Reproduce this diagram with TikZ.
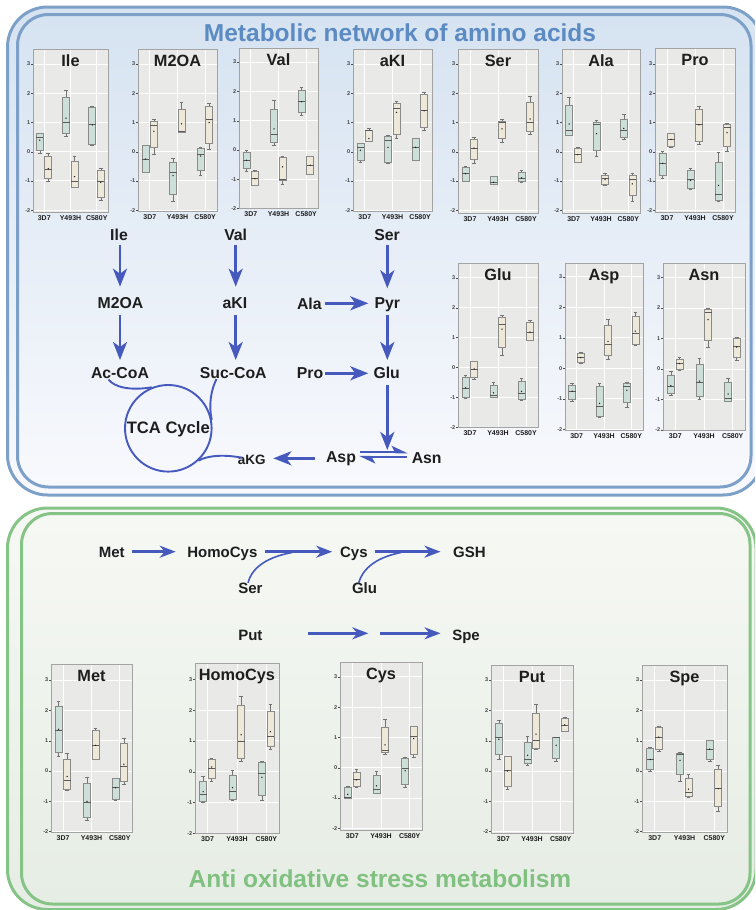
\documentclass[tikz,border=0pt]{standalone}
\usepackage{fontspec}
\setmainfont{Liberation Sans}
\usetikzlibrary{arrows.meta,calc}
\definecolor{bline}{HTML}{7DA0C9}
\definecolor{gline}{HTML}{86C386}
\definecolor{ttlb}{HTML}{5B8BC2}
\definecolor{ttlg}{HTML}{80C080}
\definecolor{arrc}{HTML}{4659BD}
\definecolor{pbg}{HTML}{E9E9E7}
\definecolor{pfr}{HTML}{A3A3A3}
\definecolor{boxg}{HTML}{CCDFD8}
\definecolor{boxb}{HTML}{EDE8D8}
\definecolor{boxl}{HTML}{8A8A8A}
\definecolor{txt}{HTML}{1E1E1E}
\definecolor{bft}{HTML}{D6E3F1}
\definecolor{bfm}{HTML}{E6EEF7}
\definecolor{bfb}{HTML}{F8F9FD}
\definecolor{gft}{HTML}{F6F8F4}
\definecolor{gfb}{HTML}{E6EDE4}
\newcommand\fs[1]{\fontsize{#1}{#1}\selectfont}
\def\PX{0}\def\PXr{0}\def\PZ{0}\def\PU{1}\def\bxfill{boxg}
\newcommand\bxpanel[8]{%
 \def\PX{#2}\def\PXr{#3}\def\PZ{#6}\def\PU{#7}%
 \fill[pbg] (#2,#4) rectangle (#3,#5);
 \foreach \v in {-2,-1,0,1,2,3}{%
   \pgfmathsetmacro\yy{#6-\v*#7}%
   \draw[gridl] (#2,\yy) -- (#3,\yy);
   \draw[tickl] (#2-2,\yy) -- (#2,\yy);
   \node[ytl] (#1y\v) at (#2-2.3,\yy) {\v};
 }%
 \foreach \f/\lab/\i in {0.15/3D7/1,0.5/Y493H/2,0.85/C580Y/3}{%
   \pgfmathsetmacro\xx{#2+(#3-#2)*\f}%
   \draw[gridl] (\xx,#4) -- (\xx,#5);
   \node[xtl] (#1x\i) at (\xx,#5+6.5) {\lab};
 }%
 \draw[pfr,line width=0.8pt] (#2,#4) rectangle (#3,#5);
 \node[ptitle] (#1t) at ({(#2+#3)/2},#4+12) {#8};
}
\newcommand\onebox[8]{%
 \pgfmathsetmacro\cx{\PX+(\PXr-\PX)*#2+#1}%
 \pgfmathsetmacro\xa{\cx-3.5}%
 \pgfmathsetmacro\xb{\cx+3.5}%
 \pgfmathsetmacro\yl{\PZ-(#3)*\PU}%
 \pgfmathsetmacro\yqa{\PZ-(#4)*\PU}%
 \pgfmathsetmacro\ym{\PZ-(#5)*\PU}%
 \pgfmathsetmacro\yqc{\PZ-(#6)*\PU}%
 \pgfmathsetmacro\yh{\PZ-(#7)*\PU}%
 \pgfmathsetmacro\ymn{\PZ-(#8)*\PU}%
 \draw[whisk] (\cx,\yl) -- (\cx,\yqa) (\cx,\yqc) -- (\cx,\yh) (\cx-1.8,\yl) -- (\cx+1.8,\yl) (\cx-1.8,\yh) -- (\cx+1.8,\yh);
 \filldraw[boxs,fill=\bxfill] (\xa,\yqa) rectangle (\xb,\yqc);
 \draw[medl] (\xa,\ym) -- (\xb,\ym);
 \fill[txt] (\cx,\ymn) circle (0.75);
}
\newcommand\gbx[7]{\def\bxfill{boxg}\onebox{-4.5}{#1}{#2}{#3}{#4}{#5}{#6}{#7}}
\newcommand\bbx[7]{\def\bxfill{boxb}\onebox{4}{#1}{#2}{#3}{#4}{#5}{#6}{#7}}
\begin{document}
\begin{tikzpicture}[x=1pt,y=-1pt,
  gridl/.style={draw=white,line width=0.9pt},
  tickl/.style={draw=black!70,line width=0.4pt},
  ytl/.style={font=\bfseries\fs{5.5},text=black!75,anchor=east,inner sep=0.3pt},
  xtl/.style={font=\bfseries\fs{7},text=txt,inner sep=0pt},
  ptitle/.style={font=\bfseries\fs{16.3},text=txt,inner sep=0pt,text height=11.7pt,text depth=0pt},
  whisk/.style={draw=black!55,line width=0.5pt},
  boxs/.style={draw=boxl,line width=0.6pt},
  medl/.style={draw=black!65,line width=0.7pt},
  pl/.style={font=\bfseries\fs{15.8},text=txt,inner sep=0pt,text height=11.3pt,text depth=0pt},
  plb/.style={font=\bfseries\fs{15},text=txt,inner sep=0pt,text height=10.8pt,text depth=0pt},
  ar/.style={draw=arrc,line width=2.8pt,-{Stealth[length=18pt,width=14pt,inset=5pt]}},
  arb/.style={draw=arrc,line width=2.5pt,-{Stealth[length=16pt,width=12pt,inset=5pt]}},
  harp/.style={draw=arrc,line width=2pt,-{Stealth[harpoon,length=14pt,width=13pt,inset=3.5pt]}},
  cl/.style={draw=arrc,line width=1.9pt},
  clb/.style={draw=arrc,line width=1.6pt},
  ttl/.style={font=\bfseries\fs{24.5},inner sep=0pt,text height=17.5pt,text depth=0pt}]
\useasboundingbox (0,0) rectangle (755,910);
\clip (0,0) rectangle (755,910);
% ---------- frames ----------
\shade[top color=bft,bottom color=bfb,rounded corners=40pt] (7.5,7) rectangle (763,495);
\draw[bline,line width=3pt,rounded corners=40pt] (7.5,7) rectangle (763,495);
\shade[top color=bft,middle color=bfm,bottom color=bfb,rounded corners=31pt] (17.5,14.5) rectangle (751,487);
\draw[bline,line width=3pt,rounded corners=31pt] (17.5,14.5) rectangle (751,487);
\shade[top color=gft,bottom color=gfb,rounded corners=40pt] (7.5,508) rectangle (756,909.5);
\draw[gline,line width=3pt,rounded corners=40pt] (7.5,508) rectangle (756,909.5);
\shade[top color=gft,bottom color=gfb,rounded corners=31pt] (21.5,513.5) rectangle (750,904);
\draw[gline,line width=3pt,rounded corners=31pt] (21.5,513.5) rectangle (750,904);
\node[ttl,text=ttlb] (ttop) at (400,32.8) {Metabolic network of amino acids};
\node[ttl,text=ttlg] (tbot) at (380,878.3) {Anti oxidative stress metabolism};
% ---------- box plots, top row ----------
\bxpanel{ile}{33}{108}{49}{212}{151.7}{29.2}{Ile}
\gbx{.15}{-0.05}{0.05}{0.5}{0.62}{0.62}{0.4}
\bbx{.15}{-1.0}{-0.92}{-0.62}{-0.15}{-0.05}{-0.58}
\gbx{.5}{0.52}{0.62}{1.0}{1.88}{2.1}{1.15}
\bbx{.5}{-1.22}{-1.22}{-1.0}{-0.33}{-0.17}{-0.85}
\gbx{.85}{0.22}{0.27}{0.92}{1.53}{1.55}{0.92}
\bbx{.85}{-1.65}{-1.55}{-1.0}{-0.62}{-0.55}{-1.05}
\bxpanel{mtoa}{138}{217}{49}{211}{151.7}{29.2}{M2OA}
\gbx{.15}{-0.72}{-0.72}{-0.25}{0.22}{0.22}{-0.25}
\bbx{.15}{-0.1}{0.15}{0.9}{1.05}{1.1}{0.7}
\gbx{.5}{-1.68}{-1.45}{-0.7}{-0.35}{-0.22}{-0.82}
\bbx{.5}{0.68}{0.68}{0.7}{1.45}{1.68}{0.95}
\gbx{.85}{-0.82}{-0.62}{-0.1}{0.12}{0.15}{-0.15}
\bbx{.85}{0.08}{0.3}{1.12}{1.55}{1.65}{1.0}
\bxpanel{valp}{239}{318}{48}{208}{150}{29.3}{Val}
\gbx{.15}{-0.72}{-0.62}{-0.35}{-0.08}{0.0}{-0.35}
\bbx{.15}{-1.22}{-1.2}{-0.98}{-0.72}{-0.7}{-0.98}
\gbx{.5}{0.17}{0.25}{0.55}{1.4}{1.7}{0.72}
\bbx{.5}{-1.18}{-1.02}{-1.0}{-0.25}{-0.2}{-0.58}
\gbx{.85}{1.2}{1.3}{1.65}{2.05}{2.15}{1.65}
\bbx{.85}{-0.82}{-0.82}{-0.52}{-0.22}{-0.2}{-0.52}
\bxpanel{akip}{353}{432}{49}{211}{151.7}{29.2}{aKI}
\gbx{.15}{-0.35}{-0.28}{0.15}{0.3}{0.3}{0.05}
\bbx{.15}{0.35}{0.35}{0.72}{0.72}{0.8}{0.45}
\gbx{.5}{-0.38}{-0.38}{0.4}{0.52}{0.55}{0.15}
\bbx{.5}{0.45}{0.6}{1.5}{1.65}{1.72}{1.35}
\gbx{.85}{-0.3}{-0.3}{0.15}{0.45}{0.45}{0.15}
\bbx{.85}{0.75}{0.85}{1.4}{1.95}{2.05}{1.4}
\bxpanel{serp}{458}{538}{49}{213}{151.7}{29.2}{Ser}
\gbx{.15}{-1.02}{-1.0}{-0.75}{-0.55}{-0.5}{-0.75}
\bbx{.15}{-0.38}{-0.25}{0.1}{0.42}{0.48}{0.12}
\gbx{.5}{-1.12}{-1.1}{-1.05}{-0.85}{-0.85}{-1.05}
\bbx{.5}{0.32}{0.45}{1.0}{1.05}{1.1}{0.78}
\gbx{.85}{-1.05}{-1.02}{-0.9}{-0.7}{-0.65}{-0.9}
\bbx{.85}{0.6}{0.7}{1.0}{1.68}{1.9}{1.12}
\bxpanel{alap}{562}{640}{49}{213}{151.7}{29.2}{Ala}
\gbx{.15}{0.55}{0.55}{0.72}{1.6}{1.85}{0.95}
\bbx{.15}{-0.35}{-0.35}{-0.1}{0.12}{0.15}{-0.1}
\gbx{.5}{-0.15}{0.05}{0.92}{1.0}{1.08}{0.62}
\bbx{.5}{-1.15}{-1.12}{-0.92}{-0.8}{-0.75}{-0.95}
\gbx{.85}{0.42}{0.5}{0.72}{1.12}{1.28}{0.8}
\bbx{.85}{-1.7}{-1.5}{-0.95}{-0.8}{-0.75}{-1.1}
\bxpanel{prop}{655}{735}{48}{212}{151.7}{29.2}{Pro}
\gbx{.15}{-0.9}{-0.8}{-0.4}{-0.05}{0.02}{-0.4}
\bbx{.15}{0.15}{0.2}{0.42}{0.62}{0.62}{0.42}
\gbx{.5}{-1.28}{-1.25}{-0.95}{-0.62}{-0.55}{-0.98}
\bbx{.5}{0.25}{0.35}{0.92}{1.45}{1.55}{0.92}
\gbx{.85}{-1.68}{-1.65}{-1.45}{-0.38}{-0.02}{-1.15}
\bbx{.85}{0.02}{0.18}{0.82}{0.95}{0.98}{0.65}
% ---------- second row ----------
\bxpanel{glup}{458}{538}{263}{427}{367.5}{29.9}{Glu}
\gbx{.15}{-1.02}{-1.0}{-0.7}{-0.32}{-0.25}{-0.68}
\bbx{.15}{-0.38}{-0.32}{-0.05}{0.2}{0.22}{-0.05}
\gbx{.5}{-0.98}{-0.98}{-0.92}{-0.6}{-0.5}{-0.85}
\bbx{.5}{0.42}{0.68}{1.45}{1.68}{1.75}{1.28}
\gbx{.85}{-1.08}{-1.08}{-0.85}{-0.45}{-0.37}{-0.8}
\bbx{.85}{0.9}{0.9}{1.18}{1.52}{1.58}{1.18}
\bxpanel{aspp}{565}{643}{263}{430}{368.3}{30.5}{Asp}
\gbx{.15}{-1.08}{-1.02}{-0.75}{-0.55}{-0.5}{-0.75}
\bbx{.15}{0.18}{0.2}{0.35}{0.5}{0.52}{0.35}
\gbx{.5}{-1.6}{-1.58}{-1.25}{-0.6}{-0.48}{-1.15}
\bbx{.5}{0.3}{0.42}{0.8}{1.42}{1.62}{0.88}
\gbx{.85}{-1.28}{-1.12}{-0.6}{-0.5}{-0.45}{-0.72}
\bbx{.85}{0.75}{0.8}{1.15}{1.72}{1.85}{1.22}
\bxpanel{asnp}{663}{745}{263}{430}{369}{30.5}{Asn}
\gbx{.15}{-0.85}{-0.8}{-0.58}{-0.2}{-0.08}{-0.55}
\bbx{.15}{-0.05}{0.0}{0.18}{0.32}{0.38}{0.18}
\gbx{.5}{-1.0}{-0.88}{-0.45}{0.15}{0.35}{-0.4}
\bbx{.5}{0.7}{0.95}{1.85}{1.95}{2.0}{1.62}
\gbx{.85}{-1.05}{-1.05}{-0.95}{-0.45}{-0.3}{-0.82}
\bbx{.85}{0.3}{0.4}{0.75}{1.02}{1.05}{0.72}
% ---------- bottom row ----------
\bxpanel{metp}{51}{132}{664}{832}{771}{30.3}{Met}
\gbx{.15}{0.5}{0.62}{1.35}{2.15}{2.3}{1.38}
\bbx{.15}{-0.65}{-0.6}{-0.32}{0.4}{0.6}{-0.18}
\gbx{.5}{-1.62}{-1.52}{-1.05}{-0.4}{-0.22}{-1.0}
\bbx{.5}{0.4}{0.4}{0.85}{1.35}{1.4}{0.85}
\gbx{.85}{-0.98}{-0.92}{-0.55}{-0.25}{-0.25}{-0.55}
\bbx{.85}{-0.45}{-0.35}{0.15}{0.9}{1.08}{0.22}
\bxpanel{hcyp}{195}{279}{663}{833}{771.7}{30.8}{HomoCys}
\gbx{.15}{-1.0}{-0.95}{-0.72}{-0.3}{-0.15}{-0.65}
\bbx{.15}{-0.3}{-0.2}{0.12}{0.4}{0.45}{0.15}
\gbx{.5}{-0.92}{-0.88}{-0.65}{-0.12}{0.05}{-0.52}
\bbx{.5}{0.35}{0.45}{1.0}{2.15}{2.45}{1.2}
\gbx{.85}{-0.92}{-0.75}{-0.05}{0.32}{0.35}{-0.18}
\bbx{.85}{0.72}{0.82}{1.15}{1.95}{2.2}{1.3}
\bxpanel{cysp}{340}{422}{662}{830}{767.7}{30.3}{Cys}
\gbx{.15}{-1.0}{-1.0}{-0.98}{-0.65}{-0.6}{-0.88}
\bbx{.15}{-0.65}{-0.62}{-0.4}{-0.15}{-0.05}{-0.4}
\gbx{.5}{-0.85}{-0.85}{-0.71}{-0.24}{-0.11}{-0.6}
\bbx{.5}{0.45}{0.5}{0.58}{1.35}{1.6}{0.75}
\gbx{.85}{-0.66}{-0.54}{-0.02}{0.31}{0.33}{-0.1}
\bbx{.85}{0.34}{0.45}{1.05}{1.37}{1.37}{0.96}
\bxpanel{putp}{491}{573}{665}{833}{771}{30.3}{Put}
\gbx{.15}{0.38}{0.55}{1.1}{1.58}{1.68}{1.05}
\bbx{.15}{-0.6}{-0.52}{0.02}{0.48}{0.5}{0.0}
\gbx{.5}{0.2}{0.25}{0.4}{0.95}{1.15}{0.52}
\bbx{.5}{0.72}{0.75}{1.02}{1.92}{2.2}{1.22}
\gbx{.85}{0.32}{0.42}{1.1}{1.12}{1.12}{0.85}
\bbx{.85}{1.3}{1.32}{1.52}{1.75}{1.78}{1.52}
\bxpanel{spep}{642}{727}{665}{832}{771}{30.3}{Spe}
\gbx{.15}{-0.02}{0.05}{0.38}{0.75}{0.8}{0.38}
\bbx{.15}{0.65}{0.7}{1.12}{1.45}{1.48}{1.12}
\gbx{.5}{-0.35}{-0.12}{0.55}{0.6}{0.62}{0.35}
\bbx{.5}{-0.85}{-0.82}{-0.7}{-0.25}{-0.1}{-0.6}
\gbx{.85}{0.32}{0.4}{0.72}{1.0}{1.0}{0.72}
\bbx{.85}{-1.32}{-1.18}{-0.58}{0.05}{0.2}{-0.58}
% ---------- top pathway ----------
\node[pl] (ile) at (119,235) {Ile};
\node[pl] (val) at (235.7,235) {Val};
\node[pl] (ser) at (387,235) {Ser};
\node[pl] (m2oa) at (120.5,303.3) {M2OA};
\node[pl] (aki) at (235,303.3) {aKI};
\node[pl] (ala) at (309.3,304) {Ala};
\node[pl] (pyr) at (387.3,303.3) {Pyr};
\node[pl] (accoa) at (120,373.3) {Ac-CoA};
\node[pl] (succoa) at (233.3,373.3) {Suc-CoA};
\node[pl] (pro) at (310,373.3) {Pro};
\node[pl] (glu) at (386.7,373.3) {Glu};
\node[pl] (asp) at (341,457.3) {Asp};
\node[pl] (asn) at (426.7,458.3) {Asn};
\node[circle,draw=arrc,line width=1.9pt,minimum size=86.6pt,inner sep=0pt] (tca) at (168.3,428.3) {};
\node[pl,font=\bfseries\fs{16.6}] (tcat) at (tca.center) {TCA Cycle};
\draw[cl] ($(accoa)+(-11.5,6.2)$) .. controls ($(accoa)+(-6,13.7)$) and ($(accoa)+(10,17.7)$) .. (tca.112);
\draw[cl] ($(succoa)+(-16.8,5.7)$) .. controls ($(succoa)+(-22.3,16.7)$) and ($(succoa)+(-24.8,31.7)$) .. (tca.11);
\node[pl,font=\bfseries\fs{13.5},text height=9.7pt] (akg) at (251.7,459.3) {aKG};
\draw[cl] (tca.-47) .. controls (208,455) and (226,454.5) .. ($(akg)+(-9.5,-1.5)$);
\draw[ar] ($(ile)+(1,10)$) -- ($(m2oa)+(-0.5,-16.6)$);
\draw[ar] ($(m2oa)+(-0.5,11.7)$) -- ($(accoa)+(0,-13.3)$);
\draw[ar] ($(val)+(0,10)$) -- ($(aki)+(0.7,-16.6)$);
\draw[ar] ($(aki)+(0.7,11.7)$) -- ($(succoa)+(2.4,-13.3)$);
\draw[ar] ($(ser)+(0.3,10)$) -- ($(pyr)+(0,-15)$);
\draw[ar] ($(pyr)+(0,11.7)$) -- ($(glu)+(0.6,-13.3)$);
\draw[ar] ($(ala)+(15.7,-0.7)$) -- ($(pyr)+(-19,0)$);
\draw[ar] ($(pro)+(15,0)$) -- ($(glu)+(-18.4,0)$);
\draw[ar] ($(glu)+(0.6,11.7)$) -- ($(asn)+(-39.4,-8.3)$);
\draw[harp] ($(asp)+(19,-5)$) -- ($(asn)+(-19,-6)$);
\draw[harp] ($(asn)+(-20,-1.4)$) -- ($(asp)+(18,-0.4)$);
\draw[ar] ($(asp)+(-26,1)$) -- ($(akg)+(21.6,-1)$);
% ---------- bottom pathway ----------
\node[plb] (met) at (111.7,551.7) {Met};
\node[plb] (homocys) at (222.4,551.7) {HomoCys};
\node[plb] (cys) at (353.9,551.7) {Cys};
\node[plb] (gsh) at (469.4,551.7) {GSH};
\node[plb] (ser2) at (250.4,588.3) {Ser};
\node[plb] (glu2) at (364.5,588.3) {Glu};
\node[plb] (put) at (250.4,635) {Put};
\node[plb] (spe) at (466,635) {Spe};
\draw[arb] ($(met)+(20.7,0)$) -- ($(homocys)+(-46.7,0)$);
\draw[arb] ($(homocys)+(42.4,0)$) -- ($(cys)+(-21.7,0)$);
\draw[arb] ($(cys)+(20.7,0)$) -- ($(gsh)+(-28.9,0)$);
\draw[clb] ($(ser2)+(-2.4,-5.5)$) .. controls ($(ser2)+(0.6,-17.3)$) and ($(ser2)+(11.6,-30.3)$) .. ($(ser2)+(41.6,-35.8)$);
\draw[clb] ($(glu2)+(-5.8,-5.5)$) .. controls ($(glu2)+(-2.5,-17.3)$) and ($(glu2)+(8.5,-30.3)$) .. ($(glu2)+(36.5,-35.8)$);
\draw[arb] ($(put)+(57.7,-1.7)$) -- ($(put)+(117.9,-1.7)$);
\draw[arb] ($(spe)+(-85.6,-1.7)$) -- ($(spe)+(-25.5,-1.7)$);
\end{tikzpicture}
\end{document}
